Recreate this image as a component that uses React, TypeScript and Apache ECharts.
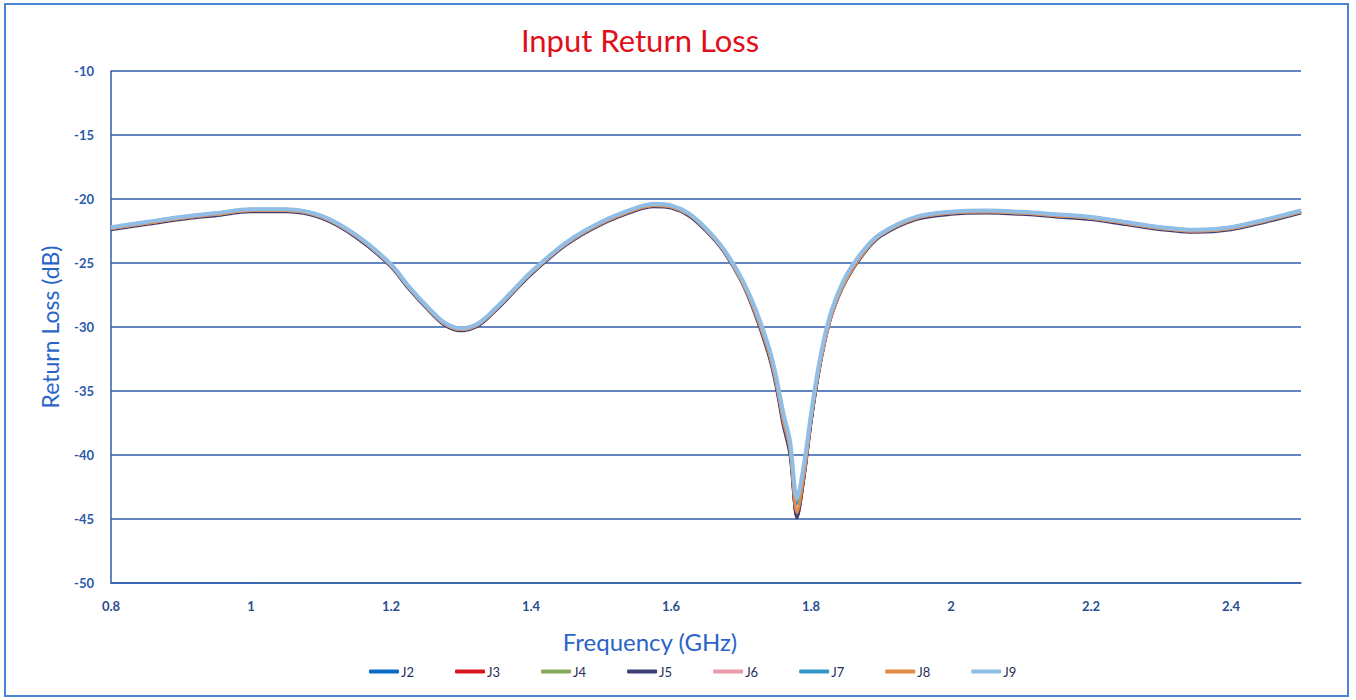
import React, { useEffect, useRef } from "react";
import * as echarts from "echarts";

const freqs = [0.8, 0.85, 0.9, 0.95, 1.0, 1.05, 1.1, 1.15, 1.2, 1.225, 1.25, 1.275, 1.3, 1.325, 1.35, 1.375, 1.4, 1.45, 1.5, 1.55, 1.575, 1.6, 1.625, 1.65, 1.675, 1.7, 1.72, 1.74, 1.75, 1.76, 1.77, 1.78, 1.79, 1.8, 1.81, 1.82, 1.83, 1.85, 1.875, 1.9, 1.95, 2.0, 2.05, 2.1, 2.15, 2.2, 2.25, 2.3, 2.35, 2.4, 2.45, 2.5];

const j2 = [-22.3, -21.9, -21.5, -21.2, -20.9, -20.9, -21.4, -22.9, -25.2, -26.9, -28.4, -29.7, -30.2, -29.8, -28.6, -27.2, -25.8, -23.5, -21.9, -20.8, -20.5, -20.6, -21.2, -22.4, -24.0, -26.3, -28.8, -32.0, -34.3, -37.3, -39.6, -44.8, -41.6, -37.3, -33.8, -31.0, -28.9, -26.3, -24.2, -22.8, -21.5, -21.1, -21.0, -21.1, -21.3, -21.5, -21.9, -22.3, -22.5, -22.3, -21.7, -21.0];
const j3 = [-22.3, -21.9, -21.5, -21.2, -20.9, -20.9, -21.4, -22.9, -25.2, -26.9, -28.4, -29.7, -30.2, -29.8, -28.6, -27.2, -25.8, -23.5, -21.9, -20.8, -20.5, -20.6, -21.2, -22.4, -24.0, -26.3, -28.8, -32.0, -34.3, -37.3, -39.7, -44.9, -41.7, -37.4, -33.8, -31.0, -28.9, -26.3, -24.2, -22.8, -21.5, -21.1, -21.0, -21.1, -21.3, -21.5, -21.9, -22.3, -22.5, -22.3, -21.7, -21.0];
const j4 = [-22.3, -21.9, -21.5, -21.2, -20.9, -20.9, -21.4, -22.9, -25.2, -26.9, -28.4, -29.7, -30.2, -29.8, -28.6, -27.2, -25.8, -23.5, -21.9, -20.8, -20.5, -20.6, -21.2, -22.4, -24.0, -26.3, -28.8, -32.0, -34.3, -37.2, -39.6, -44.7, -41.6, -37.3, -33.8, -31.0, -28.9, -26.3, -24.2, -22.8, -21.5, -21.1, -21.0, -21.1, -21.3, -21.5, -21.9, -22.3, -22.5, -22.3, -21.7, -21.0];
const j5 = [-22.4, -22.0, -21.6, -21.3, -21.0, -21.0, -21.5, -23.0, -25.3, -27.0, -28.5, -29.8, -30.3, -29.9, -28.7, -27.3, -25.9, -23.6, -22.0, -20.9, -20.6, -20.7, -21.3, -22.5, -24.1, -26.4, -29.0, -32.3, -34.6, -37.6, -40.0, -44.9, -41.8, -37.5, -33.9, -31.1, -29.0, -26.4, -24.3, -22.9, -21.6, -21.2, -21.1, -21.2, -21.4, -21.6, -22.0, -22.4, -22.6, -22.4, -21.8, -21.1];
const j6 = [-22.3, -21.9, -21.5, -21.2, -20.9, -20.9, -21.4, -22.9, -25.2, -26.9, -28.4, -29.7, -30.2, -29.8, -28.6, -27.2, -25.8, -23.5, -21.9, -20.8, -20.5, -20.6, -21.2, -22.4, -24.0, -26.3, -28.8, -32.0, -34.3, -37.2, -39.5, -44.3, -41.4, -37.2, -33.7, -31.0, -28.9, -26.3, -24.2, -22.8, -21.5, -21.1, -21.0, -21.1, -21.3, -21.5, -21.9, -22.3, -22.5, -22.3, -21.7, -21.0];
const j7 = [-22.2, -21.8, -21.4, -21.1, -20.8, -20.8, -21.3, -22.8, -25.1, -26.8, -28.3, -29.6, -30.1, -29.7, -28.5, -27.1, -25.7, -23.4, -21.8, -20.7, -20.4, -20.5, -21.1, -22.3, -23.9, -26.2, -28.6, -31.8, -34.0, -36.9, -39.2, -43.8, -41.0, -37.0, -33.5, -30.8, -28.7, -26.1, -24.1, -22.7, -21.4, -21.0, -20.9, -21.0, -21.2, -21.4, -21.8, -22.2, -22.4, -22.2, -21.6, -20.9];
const j8 = [-22.3, -21.9, -21.5, -21.2, -20.9, -20.9, -21.4, -22.9, -25.2, -26.9, -28.4, -29.7, -30.2, -29.8, -28.6, -27.2, -25.8, -23.5, -21.9, -20.8, -20.5, -20.6, -21.2, -22.4, -24.0, -26.3, -28.8, -32.0, -34.2, -37.1, -39.5, -44.5, -41.5, -37.2, -33.7, -31.0, -28.9, -26.3, -24.2, -22.8, -21.5, -21.1, -21.0, -21.1, -21.3, -21.5, -21.9, -22.3, -22.5, -22.3, -21.7, -21.0];
const j9 = [-22.2, -21.8, -21.4, -21.1, -20.8, -20.8, -21.3, -22.8, -25.1, -26.8, -28.3, -29.6, -30.1, -29.7, -28.5, -27.1, -25.7, -23.4, -21.8, -20.7, -20.4, -20.5, -21.1, -22.3, -23.9, -26.1, -28.5, -31.6, -33.8, -36.6, -38.9, -43.4, -40.7, -36.8, -33.3, -30.6, -28.6, -26.0, -24.0, -22.7, -21.4, -21.0, -20.9, -21.0, -21.2, -21.4, -21.8, -22.2, -22.4, -22.2, -21.6, -20.9];

const seriesNames = ["J2", "J3", "J4", "J5", "J6", "J7", "J8", "J9"];
const seriesValues = [j2, j3, j4, j5, j6, j7, j8, j9];
const seriesColors = ["#0A6BC4", "#D8141E", "#86A95E", "#3D3F74", "#E99AAA", "#3397C9", "#E08C45", "#90BEE6"];
const seriesWidths = [3, 3, 3, 3, 3, 3, 3, 4];

const yTicks = { min: -50, max: -10, interval: 5 };
const xTicks = { min: 0.8, max: 2.5, interval: 0.2 };

export default function App() {
  const ref = useRef<HTMLDivElement>(null);
  useEffect(() => {
    if (!ref.current) return;
    const chart = echarts.init(ref.current, null, { renderer: "svg" });
    const font = "Lato, 'Open Sans', sans-serif";
    chart.setOption({
      animation: false,
      backgroundColor: "#ffffff",
      title: {
        text: "Input Return Loss",
        left: 635,
        top: 19,
        textAlign: "center",
        textStyle: { color: "#E0101A", fontSize: 31, fontWeight: "normal", fontFamily: font },
      },
      graphic: [
        {
          type: "rect",
          shape: { x: 5, y: 4, width: 1343, height: 692 },
          style: { fill: "none", stroke: "#4A86D6", lineWidth: 2 },
          silent: true,
        },
      ],
      legend: {
        data: seriesNames,
        bottom: 17,
        left: 364,
        itemWidth: 30,
        itemHeight: 4,
        itemGap: 41,
        icon: "roundRect",
        textStyle: { color: "#1F2D5A", fontSize: 13, fontFamily: font, padding: [0, 0, 0, -3] },
      },
      grid: { left: 111, right: 55, top: 71, bottom: 117 },
      xAxis: {
        type: "value",
        min: xTicks.min,
        max: xTicks.max,
        interval: xTicks.interval,
        name: "Frequency (GHz)",
        nameLocation: "middle",
        nameGap: 46,
        nameTextStyle: { color: "#2B64C8", fontSize: 24, fontFamily: font, padding: [0, 112, 0, 0] },
        axisLine: { show: true, lineStyle: { color: "#2F5EAB", width: 1.5 } },
        axisTick: { show: false },
        splitLine: { show: false },
        axisLabel: {
          showMaxLabel: false,
          margin: 16,
          color: "#2A4F8F",
          fontSize: 13,
          fontWeight: "bold",
          fontFamily: font,
          formatter: (v: number) => String(Math.round(v * 10) / 10),
        },
      },
      yAxis: {
        type: "value",
        min: yTicks.min,
        max: yTicks.max,
        interval: yTicks.interval,
        name: "Return Loss (dB)",
        nameLocation: "middle",
        nameGap: 50,
        nameTextStyle: { color: "#2B64C8", fontSize: 23, fontFamily: font },
        axisLine: { show: true, lineStyle: { color: "#2F5EAB", width: 1.5 } },
        axisTick: { show: false },
        splitLine: { show: true, lineStyle: { color: "#2F5EAB", width: 1.5 } },
        axisLabel: {
          margin: 17,
          color: "#2A5AAA",
          fontSize: 13,
          fontWeight: "bold",
          fontFamily: font,
        },
      },
      series: seriesNames.map((name, i) => ({
        name,
        type: "line",
        showSymbol: false,
        symbol: "none",
        smooth: 0.3,
        color: seriesColors[i],
        lineStyle: { color: seriesColors[i], width: seriesWidths[i] },
        data: freqs.map((f, k) => [f, seriesValues[i][k]]),
        z: 2 + i,
      })),
    });
    return () => chart.dispose();
  }, []);
  return <div ref={ref} style={{ position: "fixed", left: 0, top: 0, width: 1356, height: 700 }} />;
}
